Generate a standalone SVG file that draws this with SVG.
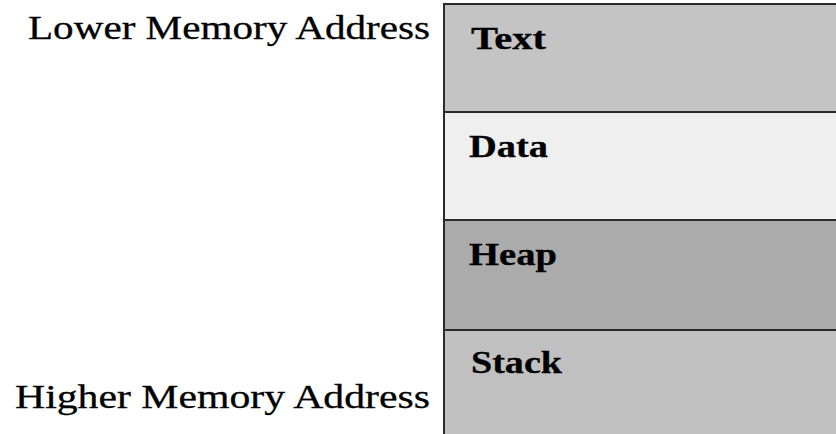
<svg xmlns="http://www.w3.org/2000/svg" width="836" height="434" viewBox="0 0 836 434">
<style>
.lbl{font-family:"Liberation Serif",serif;font-size:33px;fill:#000;stroke:#000;stroke-width:0.3}
.seg{font-family:"Liberation Serif",serif;font-size:32px;font-weight:bold;fill:#000;stroke:#000;stroke-width:0.3}
.bd{stroke:#2a2a2a;stroke-width:2;fill:none}
</style>
<rect width="836" height="434" fill="#fff"/>
<g id="text-seg"><rect x="444" y="4" width="392" height="108" fill="#c4c4c4"/><text class="seg" x="471" y="49" textLength="75" lengthAdjust="spacingAndGlyphs">Text</text></g>
<g id="data-seg"><rect x="444" y="112" width="392" height="108" fill="#efefef"/><text class="seg" x="469" y="157" textLength="79" lengthAdjust="spacingAndGlyphs">Data</text></g>
<g id="heap-seg"><rect x="444" y="220" width="392" height="110" fill="#ababab"/><text class="seg" x="469" y="265" textLength="88" lengthAdjust="spacingAndGlyphs">Heap</text></g>
<g id="stack-seg"><rect x="444" y="330" width="392" height="104" fill="#c0c0c0"/><text class="seg" x="471" y="373" textLength="91" lengthAdjust="spacingAndGlyphs">Stack</text></g>
<g id="borders">
<line class="bd" x1="444" y1="4" x2="836" y2="4"/>
<line class="bd" x1="444" y1="3" x2="444" y2="434"/>
<line class="bd" x1="444" y1="112" x2="836" y2="112"/>
<line class="bd" x1="444" y1="220" x2="836" y2="220"/>
<line class="bd" x1="444" y1="330" x2="836" y2="330"/>
</g>
<g id="lower-label"><text class="lbl" x="28" y="39" textLength="402" lengthAdjust="spacingAndGlyphs">Lower Memory Address</text></g>
<g id="higher-label"><text class="lbl" x="15" y="408" textLength="415" lengthAdjust="spacingAndGlyphs">Higher Memory Address</text></g>
</svg>
